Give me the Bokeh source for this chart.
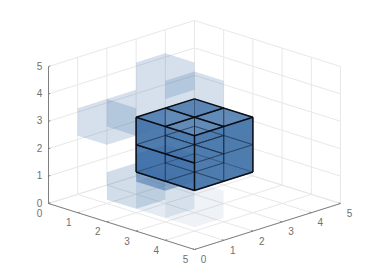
from bokeh.plotting import figure
from bokeh.embed import file_html
from bokeh.resources import INLINE
from bokeh.core.properties import value

# voxel data (u along the left-front axis, v along the right-front axis, z up)
ticks = [0, 1, 2, 3, 4, 5]
tick_labels = ["0", "1", "2", "3", "4", "5"]
faint_u = [0, 0, 0, 0, 1, 2, 3, 2]
faint_v = [1, 2, 3, 4, 1, 1, 1, 1]
faint_z = [2, 2, 3, 2, 0, 0, 0, 1]
faint_alpha = [0.11, 0.11, 0.11, 0.11, 0.12, 0.07, 0.045, 0.3]
solid_u = [0, 0, 1, 1, 0, 0, 1, 1]
solid_v = [3, 4, 3, 4, 3, 4, 3, 4]
solid_z = [0, 0, 0, 0, 1, 1, 1, 1]

OX, OY, UX, UY, VX, VY, ZY, ZOFF = 48.0, 203.0, 29.2, 9.2, 29.2, -9.2, -27.4, 0.14
def px(u, v, z):
    return OX + UX * u + VX * v, OY + UY * u + VY * v + ZY * z

BLUE = "#3a6ea5"
p = figure(width=374, height=280, x_range=(0, 374), y_range=(280, 0),
           output_backend="svg", toolbar_location=None, min_border=0,
           outline_line_color=None, background_fill_color="white")
p.xaxis.visible = False
p.yaxis.visible = False
p.xgrid.visible = False
p.ygrid.visible = False

def seg(a, b):
    A, B = px(*a), px(*b)
    return [A[0], B[0]], [A[1], B[1]]

# grid on walls and floor
gx, gy = [], []
for t in ticks:
    for a, b in [((0, 0, t), (0, 5, t)), ((0, 5, t), (5, 5, t)),
                 ((0, t, 0), (0, t, 5)), ((t, 5, 0), (t, 5, 5)),
                 ((t, 0, 0), (t, 5, 0)), ((0, t, 0), (5, t, 0))]:
        x, y = seg(a, b)
        gx.append(x); gy.append(y)
p.multi_line(gx, gy, line_color="#e8e8e8", line_width=1)

# axes and ticks
ax, ay = [], []
for a, b in [((0, 0, 0), (0, 0, 5)), ((0, 0, 0), (5, 0, 0)), ((5, 0, 0), (5, 5, 0))]:
    x, y = seg(a, b)
    ax.append(x); ay.append(y)
for t in ticks:
    for a, b in [((0, 0, t), (0, 0.06, t)), ((t, 0, 0), (t, 0.06, 0)), ((5, t, 0), (4.94, t, 0))]:
        x, y = seg(a, b)
        ax.append(x); ay.append(y)
p.multi_line(ax, ay, line_color="#808080", line_width=1)

FACES = [
    [(0, 0, 0), (1, 0, 0), (1, 1, 0), (0, 1, 0)],  # bottom
    [(0, 0, 0), (0, 1, 0), (0, 1, 1), (0, 0, 1)],  # back u
    [(0, 1, 0), (1, 1, 0), (1, 1, 1), (0, 1, 1)],  # back v
    [(1, 0, 0), (1, 1, 0), (1, 1, 1), (1, 0, 1)],  # front u
    [(0, 0, 0), (1, 0, 0), (1, 0, 1), (0, 0, 1)],  # front v
    [(0, 0, 1), (1, 0, 1), (1, 1, 1), (0, 1, 1)],  # top
]
def cube(u, v, z):
    xs, ys = [], []
    for f in FACES:
        pts = [px(u + a, v + b, z + ZOFF + c) for a, b, c in f]
        xs.append([q[0] for q in pts]); ys.append([q[1] for q in pts])
    return xs, ys

for u, v, z, al in zip(faint_u, faint_v, faint_z, faint_alpha):
    xs, ys = cube(u, v, z)
    p.patches(xs, ys, fill_color=BLUE, fill_alpha=al, line_color=None)

# solid block: uniform skin, then the wireframe of its eight cubes
u0, u1, v0, v1 = min(solid_u), max(solid_u) + 1, min(solid_v), max(solid_v) + 1
z0, z1 = min(solid_z) + ZOFF, max(solid_z) + 1 + ZOFF
mid = z0 + 1
def poly(pts):
    q = [px(*c) for c in pts]
    return [a[0] for a in q], [a[1] for a in q]
for pts, al in [
    ([(u0, v0, z0), (u1, v0, z0), (u1, v0, z1), (u0, v0, z1)], 0.9),
    ([(u1, v0, z0), (u1, v1, z0), (u1, v1, z1), (u1, v0, z1)], 0.9),
    ([(u0, v0, z1), (u1, v0, z1), (u1, v1, z1), (u0, v1, z1)], 0.8),
]:
    x, y = poly(pts)
    p.patch(x, y, fill_color="#3c6ea6", fill_alpha=al, line_color=None)

for u, v, z in zip(solid_u, solid_v, solid_z):
    xs, ys = cube(u, v, z)
    p.patches(xs, ys, fill_color=None, line_color="#16283f", line_alpha=0.28, line_width=0.8)

# strong outer edges of the solid block
edges = [
    ((u0, v0, z1), (u1, v0, z1)), ((u1, v0, z1), (u1, v1, z1)), ((u1, v1, z1), (u0, v1, z1)), ((u0, v1, z1), (u0, v0, z1)),
    ((u0 + 1, v0, z1), (u0 + 1, v1, z1)), ((u0, v0 + 1, z1), (u1, v0 + 1, z1)),
    ((u0, v0, z0), (u0, v0, z1)), ((u1, v0, z0), (u1, v0, z1)), ((u1, v1, z0), (u1, v1, z1)),
    ((u0, v0, z0), (u1, v0, z0)), ((u1, v0, z0), (u1, v1, z0)), ((u0, v0, mid), (u1, v0, mid)),
]
ex, ey = [], []
for a, b in edges:
    x, y = seg(a, b)
    ex.append(x); ey.append(y)
p.multi_line(ex, ey, line_color="#0a0f16", line_width=1.5)

# tick labels
lx, ly, lt = [], [], []
for t, s in zip(ticks, tick_labels):
    x, y = px(0, 0, t); lx.append(x - 9); ly.append(y - 1); lt.append(s)
    x, y = px(t, 0, 0); lx.append(x - 9); ly.append(y + 9.5); lt.append(s)
    x, y = px(5, t, 0); lx.append(x + 9); ly.append(y + 9.5); lt.append(s)
p.text(lx, ly, text=lt, text_font=value("Liberation Sans"), text_font_size="10px",
       text_color="#707070", text_align="center", text_baseline="middle")

open("out.html", "w").write(file_html(p, INLINE))
